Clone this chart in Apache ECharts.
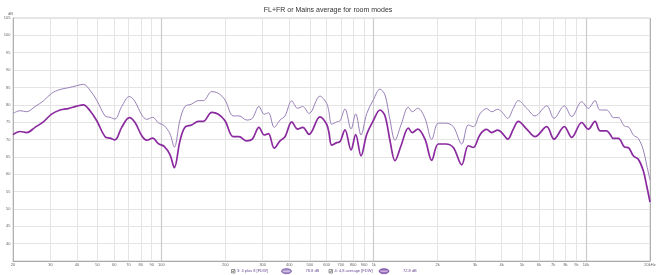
<!DOCTYPE html>
<html>
<head>
<meta charset="utf-8">
<script src="https://cdn.jsdelivr.net/npm/echarts@6/dist/echarts.min.js"></script>
<style>html,body{margin:0;padding:0;background:#fff}#c{width:656px;height:275px}</style>
</head>
<body>
<div id="c"></div>
<script>
const freqs = [20,21.6,23.2,25.4,27.8,30.4,33.3,36.4,39.9,42.9,46.1,49.6,54.3,57.3,60.4,65.0,70.6,75.1,80.8,85.3,91.0,96.7,103,109.8,115,122.3,129.1,138.8,149.2,157.5,172.6,185.4,199.3,218,232,252,268,288,305,319,340,362,382,411,438,463,496,558,600,615,634,669,694,732,782,822,871,927,995,1070,1130,1193,1259,1344,1455,1519,1611,1743,1875,2014,2183,2370,2596,2788,2944,3165,3400,3594,3836,4005,4275,4543,4796,5253,5748,6526,7062,7898,8557,9538,10247,11017,11632,12507,12964,13435,14185,15139,15926,16688,17619,18599,19302,20000];
const lowerDb = [71.4,72.3,72.0,73.5,75.1,77.3,78.5,78.9,79.6,80.0,78.3,75.4,70.8,70.4,69.9,73.5,76.3,74.9,71.1,69.8,70.4,68.8,68.0,65.6,61.9,69.6,73.5,74.2,75.2,75.2,77.8,77.3,75.4,70.8,70.8,69.6,70.1,73.5,71.3,71.7,67.5,69.6,70.8,75.1,73.0,73.5,71.5,76.5,74.4,72.0,68.4,69.1,69.4,72.8,67.0,71.4,65.3,71.5,75.4,78.5,76.8,69.6,63.9,68.2,73.3,72.0,73.0,70.1,64.0,68.7,68.7,67.7,62.7,68.2,67.7,71.4,72.9,72.0,72.7,72.0,70.1,73.0,75.2,73.0,70.8,73.7,70.1,73.7,70.6,74.9,73.0,75.2,72.5,72.5,71.5,70.3,70.3,67.9,67.5,65.3,64.3,61.0,56.6,52.0];
const upperDb = [77.5,78.3,78.0,79.5,81.1,83.3,84.4,84.9,85.5,85.9,84.2,81.3,76.8,76.4,75.9,79.5,82.4,80.9,77.1,75.8,76.4,74.8,74.0,71.6,67.8,75.6,79.5,80.2,81.2,81.2,83.8,83.3,81.4,76.8,76.8,75.6,76.1,79.5,77.3,77.7,73.5,75.6,76.8,81.1,79.0,79.5,77.5,82.5,80.4,78.0,74.4,75.1,75.4,78.8,73.0,77.4,71.3,77.5,81.4,84.5,82.8,75.6,69.8,74.2,79.3,78.0,79.0,76.1,70.0,74.7,74.7,73.7,68.7,74.2,73.7,77.4,78.9,78.0,78.7,78.0,76.1,79.0,81.2,79.0,76.8,79.7,76.1,79.7,76.6,80.9,79.0,81.2,78.5,78.5,77.5,76.3,76.3,73.9,73.5,71.3,70.3,67.0,62.6,58.3];
const xTickValues = [20,30,40,50,60,70,80,90,100,200,300,400,500,600,700,800,900,1000,2000,3000,4000,5000,6000,7000,8000,9000,10000,20000];
const xTickLabels = ['20','30','40','50','60','70','80','90','100','200','300','400','500','600','700','800','900','1k','2k','3k','4k','5k','6k','7k','8k','9k','10k','20kHz'];
const majorTicks = [100,1000,10000];
const seriesNames = ['3: 4 plus 8 [FDW]','4: 4,8 average [FDW]'];
const seriesLevels = ['78.8 dB','72.8 dB'];

const FONT = 'Liberation Sans, Arial, sans-serif';
const chart = echarts.init(document.getElementById('c'), null, {renderer:'canvas'});

const vLines = xTickValues.map((v, i) => ({
  xAxis: v,
  label: {formatter: xTickLabels[i]},
  lineStyle: {
    color: (i === 0 || i === xTickValues.length - 1) ? '#b0b0b0' : (majorTicks.includes(v) ? '#cccccc' : '#e4e4e4'),
    width: majorTicks.includes(v) ? 1.2 : 1,
    type: 'solid'
  }
}));

function legendItem(x, idx, fill) {
  return [
    {type:'rect', shape:{x:x, y:269.5, width:3.5, height:3.5}, style:{fill:'#fff', stroke:'#555', lineWidth:0.6}},
    {type:'polyline', shape:{points:[[x+0.8,271.2],[x+1.6,272.2],[x+3,270]]}, style:{stroke:'#333', lineWidth:0.6, fill:null}},
    {type:'text', style:{x:x+5.5, y:271.3, text:seriesNames[idx], fontSize:4, fontFamily:FONT, fill:'#6a4b95', verticalAlign:'middle'}},
    {type:'ellipse', shape:{cx:x+55, cy:271.2, rx:5, ry:2.6}, style:{fill:fill, stroke:'#6a4b95', lineWidth:0.6}},
    {type:'line', shape:{x1:x+51.5, y1:271.2, x2:x+58.5, y2:271.2}, style:{stroke:'#fff', lineWidth:0.7}},
    {type:'text', style:{x:x+74, y:271.3, text:seriesLevels[idx], fontSize:4, fontFamily:FONT, fill:'#6a4b95', verticalAlign:'middle'}}
  ];
}

chart.setOption({
  animation: false,
  backgroundColor: '#fff',
  title: {
    text: 'FL+FR or Mains average for room modes',
    left: 'center', top: 2,
    textStyle: {fontSize: 7, fontWeight: 'normal', color: '#333', fontFamily: FONT}
  },
  grid: {left: 13, right: 6, top: 18, bottom: 14, show: true, borderColor: '#cfcfcf', borderWidth: 1, containLabel: false},
  xAxis: {
    type: 'log', logBase: 10, min: 20, max: 20000,
    axisLine: {show: true, lineStyle: {color: '#aaa'}},
    axisTick: {show: false},
    axisLabel: {show: false},
    splitLine: {show: false},
    minorTick: {show: false},
    minorSplitLine: {show: false}
  },
  yAxis: {
    type: 'value', min: 35, max: 105, interval: 5,
    name: 'dB', nameLocation: 'end', nameGap: 2,
    nameTextStyle: {fontSize: 4, color: '#666', fontFamily: FONT, align: 'right'},
    axisLine: {show: true, lineStyle: {color: '#aaa'}},
    axisTick: {show: false},
    axisLabel: {fontSize: 4, color: '#666', margin: 2.5, fontFamily: FONT, showMinLabel: false},
    splitLine: {show: true, lineStyle: {color: '#e4e4e4', width: 1}}
  },
  series: [
    {
      name: seriesNames[0], type: 'line', smooth: 0.35, symbol: 'none',
      data: freqs.map((f, i) => [f, upperDb[i]]),
      lineStyle: {color: '#9880b8', width: 1},
      z: 3,
      markLine: {
        silent: true, symbol: 'none', animation: false,
        label: {show: true, position: 'start', distance: 1.5, fontSize: 4, color: '#666', fontFamily: FONT},
        data: vLines,
        z: 1
      }
    },
    {
      name: seriesNames[1], type: 'line', smooth: 0.35, symbol: 'none',
      data: freqs.map((f, i) => [f, lowerDb[i]]),
      lineStyle: {color: '#8a2a9e', width: 1.7},
      z: 4
    }
  ],
  graphic: [].concat(legendItem(231.5, 0, '#a58cc8'), legendItem(329, 1, '#9a6cc0'))
});
</script>
</body>
</html>
